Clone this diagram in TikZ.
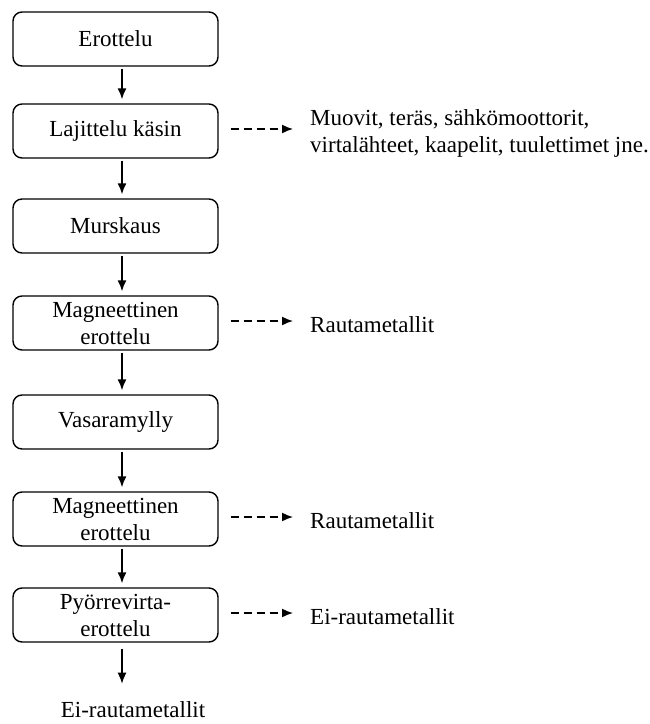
\documentclass[tikz,border=0pt]{standalone}
\usepackage{fontspec}
\setmainfont{Liberation Serif}
\usetikzlibrary{arrows.meta}
\begin{document}
\begin{tikzpicture}[x=1pt,y=-1pt,
 box/.style={draw, rounded corners=9pt, line width=1.4pt, minimum width=205pt, minimum height=54pt, align=center, font=\fontsize{23}{27}\selectfont, inner sep=0pt},
 flow/.style={-{Latex[length=11pt,width=9pt]}, line width=1.5pt},
 side/.style={flow, dash pattern=on 8pt off 5pt},
 lbl/.style={anchor=west, align=left, font=\fontsize{23}{27}\selectfont, inner sep=0pt}]
\useasboundingbox (0,0) rectangle (649,724);
\node[box] (b1) at (115.5,39) {Erottelu};
\node[box] (b2) at (115.5,131) {Lajittelu käsin};
\node[box] (b3) at (115.5,226) {Murskaus};
\node[box] (b4) at (115.5,323) {Magneettinen\\erottelu};
\node[box] (b5) at (115.5,422) {Vasaramylly};
\node[box] (b6) at (115.5,519) {Magneettinen\\erottelu};
\node[box] (b7) at (115.5,615) {Pyörrevirta-\\erottelu};
\node[lbl] (l2) at (310,133) {Muovit, teräs, sähkömoottorit,\\virtalähteet, kaapelit, tuulettimet jne.};
\node[lbl] (l4) at (310,325) {Rautametallit};
\node[lbl] (l6) at (310,521) {Rautametallit};
\node[lbl] (l7) at (310,617) {Ei-rautametallit};
\node[lbl, anchor=center] (end) at (133,710) {Ei-rautametallit};
\foreach \a/\b in {b1/b2,b2/b3,b3/b4,b4/b5,b5/b6,b6/b7}
  \draw[flow, shorten <=2pt, shorten >=4pt] ([xshift=6.5pt]\a.south) -- ([xshift=6.5pt]\b.north);
\draw[flow, shorten <=6pt, shorten >=18pt] ([xshift=6.5pt]b7.south) -- ([xshift=6.5pt]b7.south |- end.north);
\foreach \a/\b in {b2/l2,b4/l4,b6/l6,b7/l7}
  \draw[side, shorten <=12pt, shorten >=17pt] ([yshift=2pt]\a.east) -- ([yshift=2pt]\a.east -| \b.west);
\end{tikzpicture}
\end{document}
